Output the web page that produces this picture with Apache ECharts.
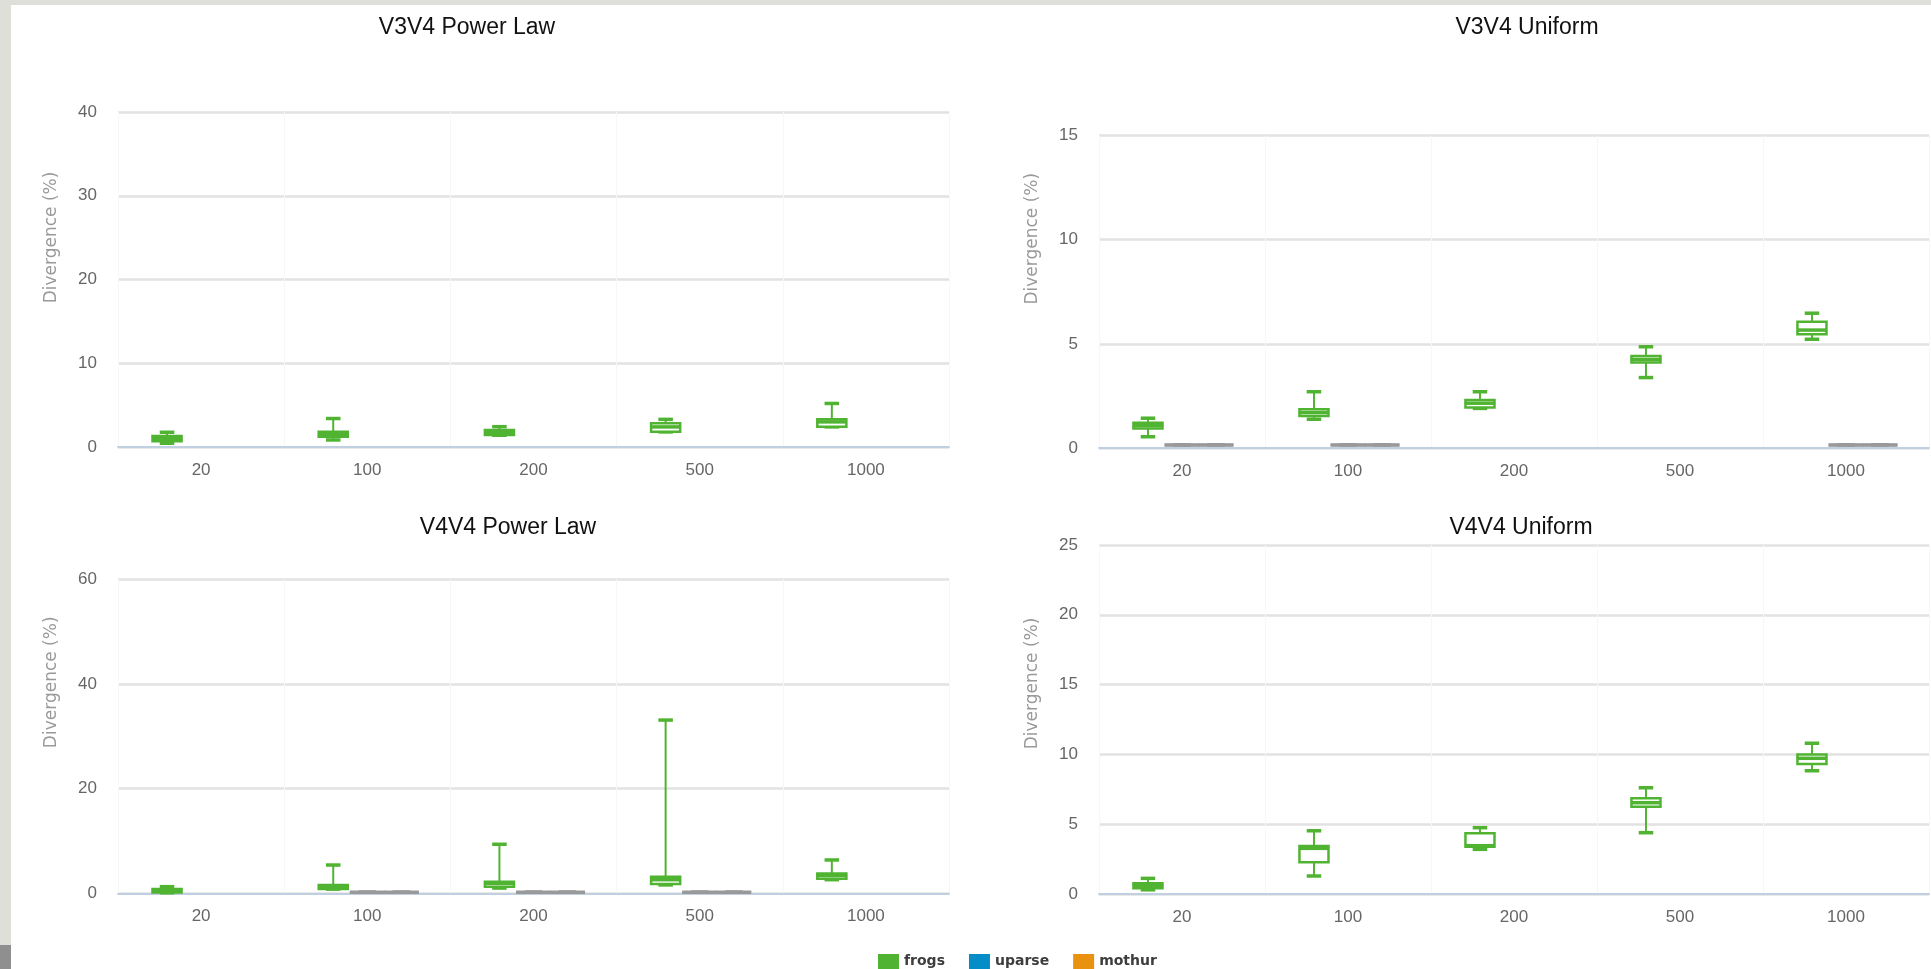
<!DOCTYPE html>
<html>
<head>
<meta charset="utf-8">
<script src="https://cdn.jsdelivr.net/npm/echarts@6/dist/echarts.min.js"></script>
<style>
  html, body { margin: 0; padding: 0; background: #dfdfd9; overflow: hidden; }
  #main { position: absolute; left: 11px; top: 5px; width: 1920px; height: 964px; background: #fff; }
  #scroll { position: absolute; left: 0; top: 945px; width: 11px; height: 24px; background: #8f8f8f; }
</style>
</head>
<body>
<div id="main"></div>
<div id="scroll"></div>
<script>
const categories = ['20', '100', '200', '500', '1000'];

// each box: [low, q1, median, q3, high]
const v3v4PowerFrogs = [[0.45, 0.7, 1.0, 1.3, 1.76], [0.84, 1.23, 1.5, 1.83, 3.4], [1.4, 1.43, 1.7, 2.03, 2.43], [1.8, 1.83, 2.4, 2.83, 3.3], [2.4, 2.43, 3.0, 3.3, 5.2]];
const v3v4UniformFrogs = [[0.54, 0.94, 1.08, 1.21, 1.43], [1.38, 1.54, 1.7, 1.86, 2.7], [1.9, 1.95, 2.15, 2.3, 2.7], [3.38, 4.1, 4.25, 4.42, 4.86], [5.22, 5.46, 5.66, 6.06, 6.47]];
const v4v4PowerFrogs = [[0.1, 0.13, 0.5, 0.82, 1.27], [0.8, 0.82, 1.2, 1.58, 5.4], [1.0, 1.27, 1.9, 2.23, 9.37], [1.6, 1.78, 2.6, 3.18, 33.1], [2.6, 2.8, 3.4, 3.76, 6.37]];
const v4v4UniformFrogs = [[0.3, 0.41, 0.6, 0.77, 1.12], [1.29, 2.27, 3.27, 3.44, 4.53], [3.2, 3.39, 3.46, 4.35, 4.75], [4.39, 6.25, 6.54, 6.85, 7.61], [8.83, 9.31, 9.72, 10.0, 10.8]];

// uparse / mothur stay flat near zero
const v3v4PowerUparse = [null, null, null, null, null];
const v3v4PowerMothur = [null, null, null, null, null];
const v3v4UniformUparse = [[0.15, 0.15, 0.15, 0.15, 0.15], [0.15, 0.15, 0.15, 0.15, 0.15], null, null, [0.15, 0.15, 0.15, 0.15, 0.15]];
const v3v4UniformMothur = [[0.15, 0.15, 0.15, 0.15, 0.15], [0.15, 0.15, 0.15, 0.15, 0.15], null, null, [0.15, 0.15, 0.15, 0.15, 0.15]];
const v4v4PowerUparse = [null, [0.2, 0.2, 0.2, 0.2, 0.2], [0.2, 0.2, 0.2, 0.2, 0.2], [0.2, 0.2, 0.2, 0.2, 0.2], null];
const v4v4PowerMothur = [null, [0.2, 0.2, 0.2, 0.2, 0.2], [0.2, 0.2, 0.2, 0.2, 0.2], [0.2, 0.2, 0.2, 0.2, 0.2], null];
const v4v4UniformUparse = [null, null, null, null, null];
const v4v4UniformMothur = [null, null, null, null, null];

const titles = ['V3V4 Power Law', 'V3V4 Uniform', 'V4V4 Power Law', 'V4V4 Uniform'];
const yMax = [40, 15, 60, 25];
const yStep = [10, 5, 20, 5];

const colors = { frogs: '#50B432', uparse: '#058DC7', mothur: '#E8920F' };

var chartDom = document.getElementById('main');
var myChart = echarts.init(chartDom);

const grids = [
  { left: 107, top: 107, width: 831, height: 335 },
  { left: 1088, top: 130.5, width: 830, height: 312.5 },
  { left: 107, top: 574.3, width: 831, height: 314 },
  { left: 1088, top: 540, width: 830, height: 349 }
];
const titlePos = [[456, 11], [1516, 11], [497, 511], [1510, 511]];
// axis names sit above the grid middle in the original
const nameShift = [84, 106, 108, 72];

function boxRenderer(offset, widthFrac, stroke) {
  return function (params, api) {
    var idx = api.value(0);
    var band = api.size([1, 0])[0];
    var cx = api.coord([idx, 0])[0] + offset * band;
    var w = band * widthFrac;
    var low = api.coord([idx, api.value(1)])[1];
    var q1 = api.coord([idx, api.value(2)])[1];
    var med = api.coord([idx, api.value(3)])[1];
    var q3 = api.coord([idx, api.value(4)])[1];
    var high = api.coord([idx, api.value(5)])[1];
    var cap = w / 2;
    return {
      type: 'group',
      children: [
        { type: 'line', shape: { x1: cx, y1: q3, x2: cx, y2: high }, style: { stroke: stroke, lineWidth: 2 } },
        { type: 'line', shape: { x1: cx, y1: q1, x2: cx, y2: low }, style: { stroke: stroke, lineWidth: 2 } },
        { type: 'line', shape: { x1: cx - cap / 2, y1: high, x2: cx + cap / 2, y2: high }, style: { stroke: stroke, lineWidth: 3.5 } },
        { type: 'line', shape: { x1: cx - cap / 2, y1: low, x2: cx + cap / 2, y2: low }, style: { stroke: stroke, lineWidth: 3.5 } },
        { type: 'rect', shape: { x: cx - w / 2, y: q3, width: w, height: Math.max(q1 - q3, 0) }, style: { fill: '#fff', stroke: stroke, lineWidth: 2.5 } },
        { type: 'line', shape: { x1: cx - w / 2, y1: med, x2: cx + w / 2, y2: med }, style: { stroke: stroke, lineWidth: 3.5 } }
      ]
    };
  };
}

function toData(boxes) {
  return boxes.map(function (b, i) { return b ? [i].concat(b) : null; }).filter(Boolean);
}

const panelFrogs = [v3v4PowerFrogs, v3v4UniformFrogs, v4v4PowerFrogs, v4v4UniformFrogs];
const panelUparse = [v3v4PowerUparse, v3v4UniformUparse, v4v4PowerUparse, v4v4UniformUparse];
const panelMothur = [v3v4PowerMothur, v3v4UniformMothur, v4v4PowerMothur, v4v4UniformMothur];

var series = [];
for (var i = 0; i < 4; i++) {
  series.push({
    name: 'frogs', type: 'custom', xAxisIndex: i, yAxisIndex: i,
    itemStyle: { color: colors.frogs },
    encode: { x: 0, y: [1, 2, 3, 4, 5] },
    renderItem: boxRenderer(-0.205, 0.175, colors.frogs),
    data: toData(panelFrogs[i])
  });
  series.push({
    name: 'uparse', type: 'custom', xAxisIndex: i, yAxisIndex: i,
    itemStyle: { color: colors.uparse },
    encode: { x: 0, y: [1, 2, 3, 4, 5] },
    renderItem: boxRenderer(0, 0.21, '#999999'),
    data: toData(panelUparse[i])
  });
  series.push({
    name: 'mothur', type: 'custom', xAxisIndex: i, yAxisIndex: i,
    itemStyle: { color: colors.mothur },
    encode: { x: 0, y: [1, 2, 3, 4, 5] },
    renderItem: boxRenderer(0.205, 0.21, '#999999'),
    data: toData(panelMothur[i])
  });
}

var option = {
  animation: false,
  title: titles.map(function (t, i) {
    return {
      text: t, left: titlePos[i][0], top: titlePos[i][1], textAlign: 'center', padding: 0,
      textStyle: { fontFamily: 'Liberation Sans', fontSize: 23, fontWeight: 'normal', color: '#111' }
    };
  }),
  legend: {
    left: 862, top: 944, itemWidth: 21, itemHeight: 15, itemGap: 24, icon: 'rect',
    data: [
      { name: 'frogs', itemStyle: { color: colors.frogs } },
      { name: 'uparse', itemStyle: { color: colors.uparse } },
      { name: 'mothur', itemStyle: { color: colors.mothur } }
    ],
    textStyle: { fontFamily: 'DejaVu Sans', fontSize: 14, fontWeight: 'bold', color: '#3d3d3d' }
  },
  grid: grids,
  xAxis: grids.map(function (g, i) {
    return {
      type: 'category', gridIndex: i, data: categories,
      axisLine: { lineStyle: { color: '#c0d0e0', width: 2 } },
      axisTick: { length: 15, lineStyle: { color: '#c8d6e6', width: 2 } },
      axisLabel: { margin: 15, fontFamily: 'Liberation Sans', fontSize: 17, color: '#666' },
      splitLine: { show: true, lineStyle: { color: '#f7f7f7', width: 1 } }
    };
  }),
  yAxis: grids.map(function (g, i) {
    return {
      type: 'value', gridIndex: i, min: 0, max: yMax[i], interval: yStep[i],
      name: 'Divergence (%)', nameLocation: 'middle', nameRotate: 90, nameGap: 58,
      nameTextStyle: { fontFamily: 'DejaVu Sans', fontSize: 17, color: '#9a9a9a', padding: [0, 0, 0, nameShift[i]] },
      axisLine: { show: false }, axisTick: { show: false },
      axisLabel: { margin: 21, fontFamily: 'Liberation Sans', fontSize: 17, color: '#666' },
      splitLine: { lineStyle: { color: '#e2e2e2', width: 2.5 } }
    };
  }),
  series: series
};

option && myChart.setOption(option);
</script>
</body>
</html>
